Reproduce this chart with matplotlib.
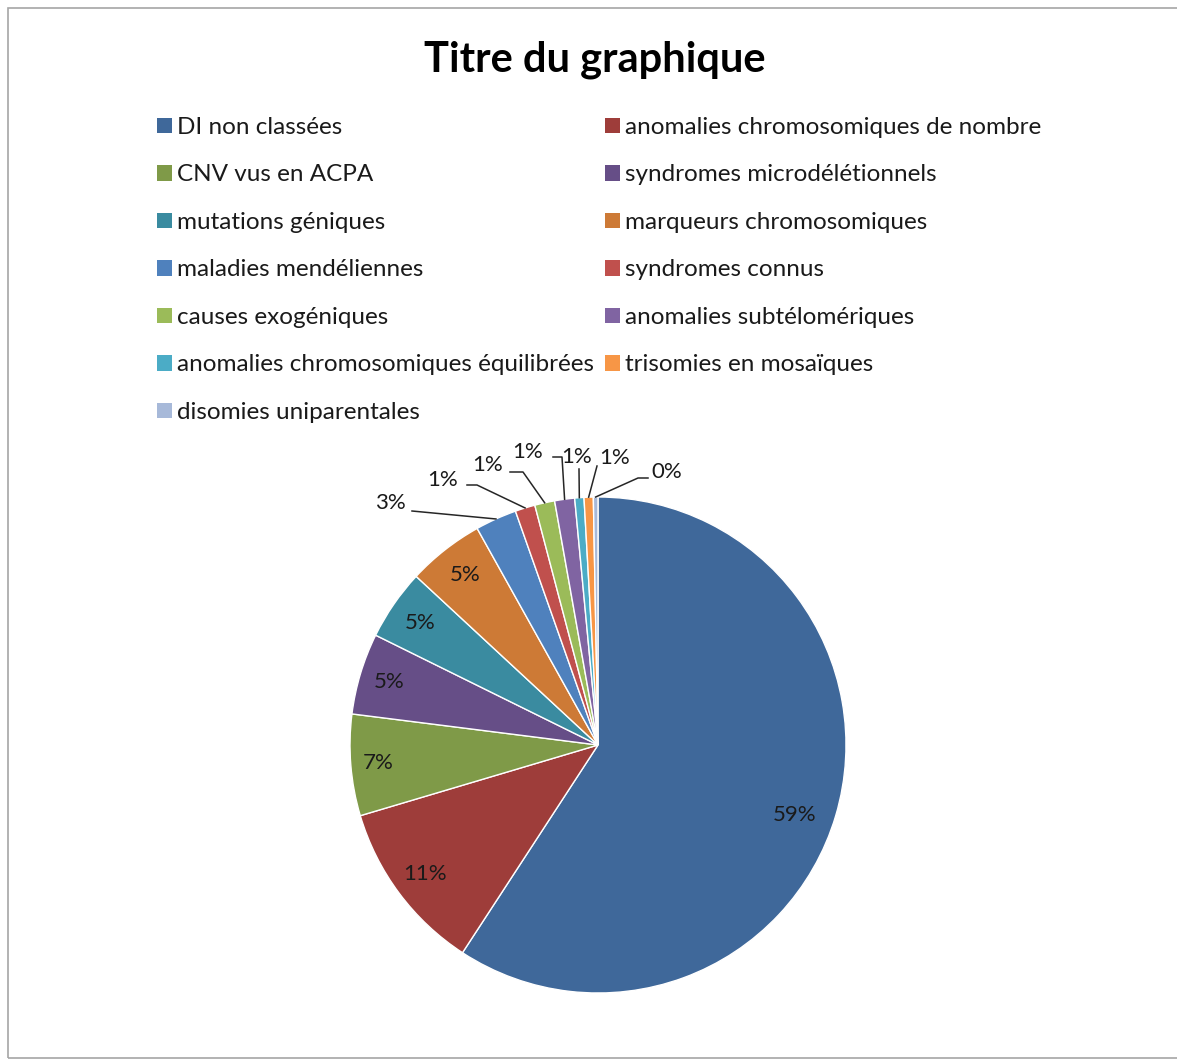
import numpy as np
import matplotlib.pyplot as plt
from matplotlib.patches import Rectangle, Patch

plt.rcParams['font.family'] = ['Lato', 'DejaVu Sans']

W, H = 1177, 1061

categories = ['DI non classées', 'anomalies chromosomiques de nombre',
              'CNV vus en ACPA', 'syndromes microdélétionnels',
              'mutations géniques', 'marqueurs chromosomiques',
              'maladies mendéliennes', 'syndromes connus',
              'causes exogéniques', 'anomalies subtélomériques',
              'anomalies chromosomiques équilibrées', 'trisomies en mosaïques',
              'disomies uniparentales']
values = [59.2, 11.2, 6.6, 5.3, 4.6, 5.0, 2.7, 1.3, 1.3, 1.3, 0.6, 0.6, 0.3]
colors = ['#3F689A', '#9E3D3A', '#7F9A48', '#664E87', '#3A8BA0', '#CD7A36',
          '#4F81BD', '#C0504D', '#9BBB59', '#8064A2', '#4BACC6', '#F79646',
          '#A7B9D9']

# pie centre / radius in pixels
CX, CY, R = 598, 745, 248
HALF = 310

def px2d(x, y):
    return (x - CX) / R, (CY - y) / R

fig = plt.figure(figsize=(W / 100, H / 100), dpi=100)
fig.patches.append(Rectangle((8 / W, 3 / H), 1.2, 1050 / H, transform=fig.transFigure,
                             fill=False, edgecolor='#a6a6a6', linewidth=1.2))

fig.text(595 / W, 1 - 60 / H, 'Titre du graphique', ha='center', va='center',
         fontsize=30, fontweight='bold', color='black')

ax = fig.add_axes([(CX - HALF) / W, (H - CY - HALF) / H, 2 * HALF / W, 2 * HALF / H])
total = sum(values)
wedges, _ = ax.pie(values, colors=colors, startangle=90, counterclock=False,
                   wedgeprops=dict(edgecolor='white', linewidth=1))
ax.set_xlim(-HALF / R, HALF / R)
ax.set_ylim(-HALF / R, HALF / R)
ax.set_aspect('equal')
ax.axis('off')

pct = ['%d%%' % round(v / total * 100) for v in values]

# labels inside the big slices (radius, angle shift in degrees)
inner_pos = [(0.84, -3), (0.87, 0), (0.89, 0), (0.88, 0), (0.87, 0), (0.87, 0)]
for w, s, (r, da) in zip(wedges[:6], pct[:6], inner_pos):
    a = np.deg2rad((w.theta1 + w.theta2) / 2 + da)
    ax.text(r * np.cos(a), r * np.sin(a), s, ha='center', va='center',
            fontsize=16, color='#1a1a1a')

# outer labels: text centre, leader start, elbow (pixels)
outer_px = [((390, 503), (412, 511), (412, 511)),
            ((443, 480), (467, 485), (477, 485)),
            ((488, 465), (510, 472), (523, 472)),
            ((528, 452), (553, 457), (562, 457)),
            ((577, 457), (579, 469), (579, 469)),
            ((615, 458), (597, 466), (597, 466)),
            ((667, 472), (648, 478), (638, 478))]
for w, s, (t, st, el) in zip(wedges[6:], pct[6:], outer_px):
    a = np.deg2rad((w.theta1 + w.theta2) / 2)
    ex, ey = np.cos(a), np.sin(a)
    p0, p1 = px2d(*st), px2d(*el)
    ax.plot([p0[0], p1[0], ex], [p0[1], p1[1], ey], color='#262626', lw=1.1,
            clip_on=False)
    tx, ty = px2d(*t)
    ax.text(tx, ty, s, ha='center', va='center', fontsize=16, color='#1a1a1a')

handles = [Patch(facecolor=c) for c in colors]
leg_kw = dict(frameon=False, fontsize=17.5, handlelength=0.62, handleheight=0.62,
              handletextpad=0.22, labelspacing=1.09, loc='upper left', borderpad=0,
              borderaxespad=0, labelcolor='#1a1a1a')
leg1 = fig.legend(handles[0::2], categories[0::2],
                  bbox_to_anchor=(157 / W, 1 - 117 / H), **leg_kw)
leg2 = fig.legend(handles[1::2], categories[1::2],
                  bbox_to_anchor=(605 / W, 1 - 117 / H), **leg_kw)

plt.savefig('out.png', dpi=100)
